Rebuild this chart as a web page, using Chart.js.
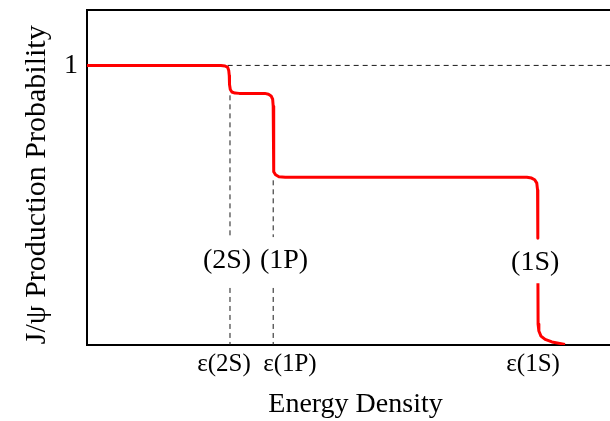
<!DOCTYPE html>
<html>
<head>
<meta charset="utf-8">
<script src="https://cdn.jsdelivr.net/npm/chart.js@4"></script>
<style>
  body { margin: 0; background: #fff; }
  #wrap { width: 610px; height: 421px; }
</style>
</head>
<body>
<div id="wrap"><canvas id="chart"></canvas></div>
<script>
// suppression curve J/psi (x = energy density, arbitrary units)
const curveX = [0, 2.56, 2.64, 2.69, 2.71, 2.72, 2.725, 2.74, 2.77, 2.83, 2.91,
    3.40, 3.47, 3.52, 3.55, 3.56, 3.565, 3.575, 3.605, 3.67, 3.79,
    8.41, 8.50, 8.56, 8.60, 8.615, 8.62, 8.621,
    8.622, 8.625, 8.64, 8.68, 8.76, 8.89, 9.14]
const curveY = [1, 1, 0.998, 0.993, 0.982, 0.964, 0.932, 0.914, 0.905, 0.901, 0.9,
    0.9, 0.897, 0.891, 0.879, 0.854, 0.639, 0.62, 0.609, 0.602, 0.6,
    0.6, 0.597, 0.591, 0.579, 0.554, 0.382, null,
    0.221, 0.075, 0.05, 0.032, 0.02, 0.011, 0.002]

// dashed guide lines
const refX = [2.69, 10]
const refY = [1, 1]
const guide2SX = [2.734, 2.734, 2.734, 2.734, 2.734]
const guide1PX = [3.56, 3.56, 3.56, 3.56, 3.56]
const guide2SY = [0.893, 0.386, null, 0.204, 0]
const guide1PY = [0.589, 0.386, null, 0.204, 0]

// tick labels
const yTicks = [1]
const xTicks = [2.62, 3.88, 8.53]
const xTickLabels = ["ε(2S)", "ε(1P)", "ε(1S)"]

// state labels on the plot
const stateLabels = ["(2S)", "(1P)", "(1S)"]
const stateX = [2.677, 3.767, 8.57]
const stateY = [0.30, 0.30, 0.295]

const serif = "'Liberation Serif', 'Times New Roman', serif"

const toPoints = (xs, ys) => xs.map((x, i) => ({ x, y: ys[i] }))

const stateLabelPlugin = {
    id: "stateLabels",
    afterDatasetsDraw(chart) {
        const { ctx, scales } = chart
        ctx.save()
        ctx.font = "28px " + serif
        ctx.fillStyle = "#000"
        ctx.textAlign = "center"
        ctx.textBaseline = "middle"
        stateLabels.forEach((txt, i) => {
            ctx.fillText(txt, scales.x.getPixelForValue(stateX[i]), scales.y.getPixelForValue(stateY[i]))
        })
        ctx.restore()
    }
}

const dashed = {
    borderColor: "#1a1a1a",
    borderWidth: 1,
    borderDash: [5, 4],
    pointRadius: 0,
    spanGaps: false,
    tension: 0
}

new Chart(document.getElementById("chart"), {
    type: "line",
    data: {
        datasets: [
            {
                data: toPoints(curveX, curveY),
                borderColor: "#ff0000",
                borderWidth: 3,
                pointRadius: 0,
                spanGaps: false,
                tension: 0,
                borderJoinStyle: "round"
            },
            { ...dashed, data: toPoints(refX, refY) },
            { ...dashed, data: toPoints(guide2SX, guide2SY) },
            { ...dashed, data: toPoints(guide1PX, guide1PY) }
        ]
    },
    options: {
        responsive: true,
        maintainAspectRatio: false,
        animation: false,
        layout: { padding: { top: 9.5, right: 0, bottom: 0, left: 0 } },
        plugins: {
            legend: { display: false },
            tooltip: { enabled: false }
        },
        scales: {
            x: {
                type: "linear",
                min: 0,
                max: 10,
                grid: { display: false, drawTicks: false },
                border: { display: true, color: "#000", width: 2 },
                afterBuildTicks: s => { s.ticks = xTicks.map(v => ({ value: v })) },
                afterFit: s => { s.height = 76; s.paddingLeft = 0; s.paddingRight = 0 },
                ticks: {
                    autoSkip: false,
                    maxRotation: 0,
                    padding: 4,
                    color: "#000",
                    font: { family: serif, size: 25 },
                    callback: (v, i) => xTickLabels[i]
                },
                title: {
                    display: true,
                    text: "\u2002Energy Density",
                    color: "#000",
                    font: { family: serif, size: 28 },
                    padding: { top: 0, bottom: 0 }
                }
            },
            x2: {
                type: "linear",
                axis: "x",
                position: "top",
                min: 0,
                max: 10,
                grid: { display: false, drawTicks: false },
                border: { display: true, color: "#000", width: 2 },
                ticks: { display: false },
                afterFit: s => { s.height = 0; s.paddingLeft = 0; s.paddingRight = 0 }
            },
            y: {
                min: 0,
                max: 1.2,
                grid: { display: false, drawTicks: false },
                border: { display: true, color: "#000", width: 2 },
                afterBuildTicks: s => { s.ticks = yTicks.map(v => ({ value: v })) },
                afterFit: s => { s.width = 87; s.paddingTop = 0; s.paddingBottom = 0 },
                ticks: {
                    padding: 9,
                    color: "#000",
                    font: { family: serif, size: 28 }
                },
                title: {
                    display: true,
                    text: "J/ψ Production Probability\u2002",
                    color: "#000",
                    font: { family: serif, size: 30 },
                    padding: { top: 19, bottom: 0 }
                }
            }
        }
    },
    plugins: [stateLabelPlugin]
})
</script>
</body>
</html>
